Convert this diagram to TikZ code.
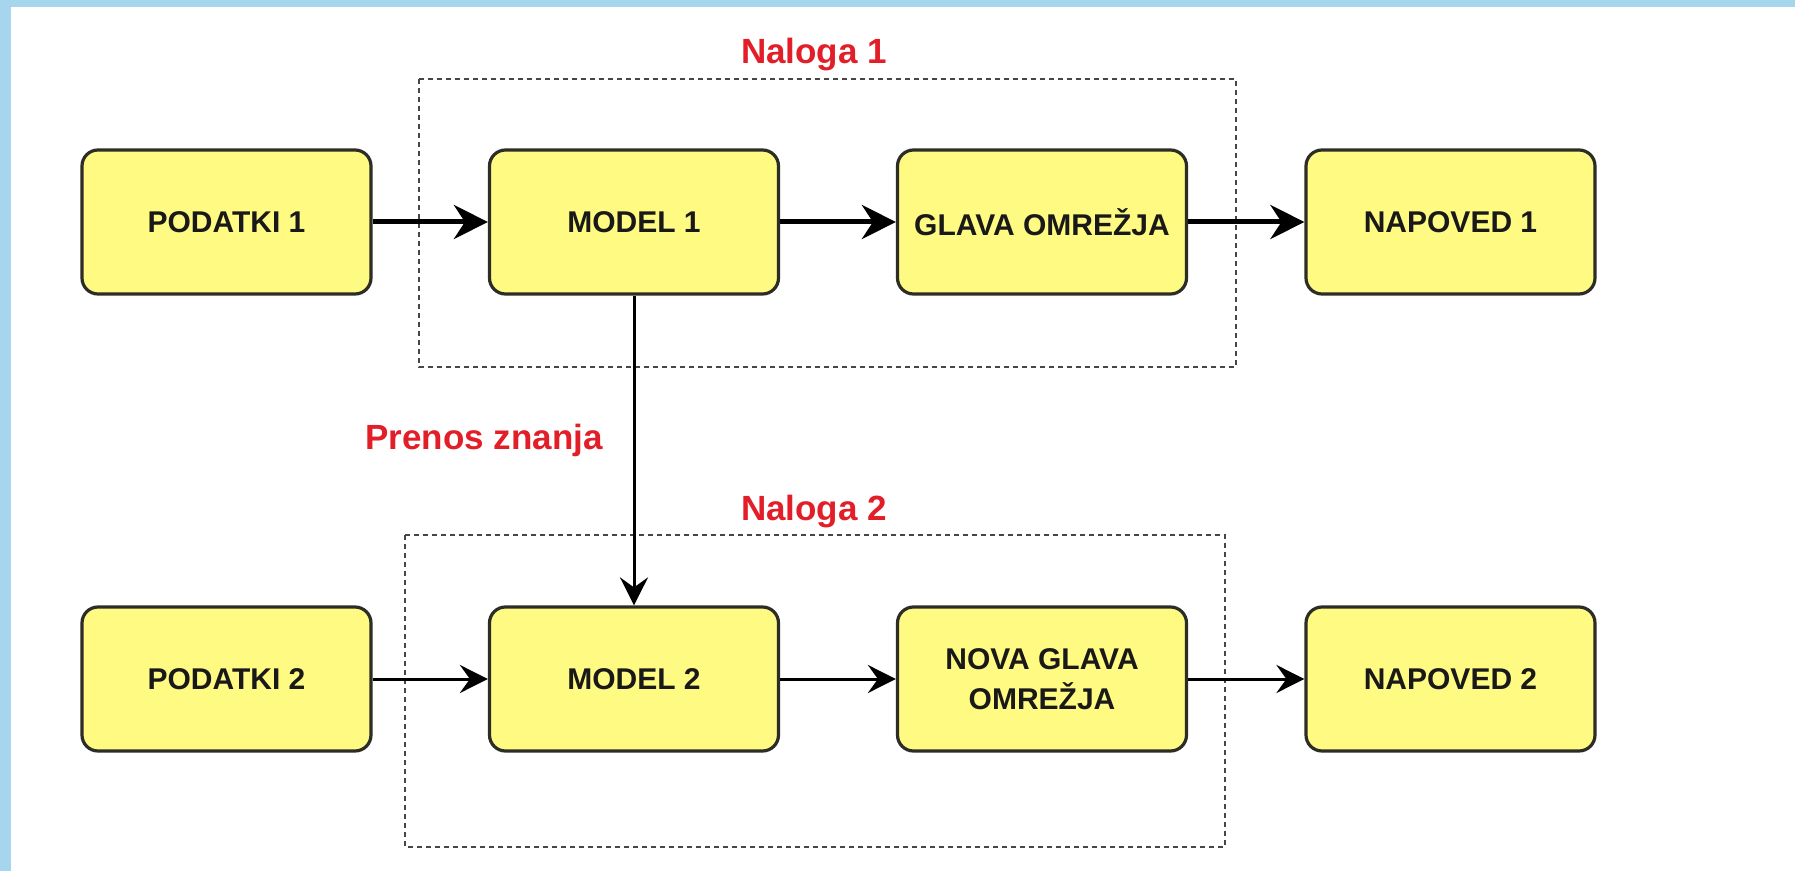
\documentclass[tikz,border=0pt]{standalone}
\usepackage{fontspec}
\setmainfont{Liberation Sans}
\usetikzlibrary{arrows.meta}
\definecolor{bgblue}{RGB}{166,214,238}
\definecolor{boxfill}{RGB}{255,250,130}
\definecolor{boxdraw}{RGB}{45,45,40}
\definecolor{labred}{RGB}{226,30,40}
\definecolor{dashgray}{RGB}{70,70,70}
\tikzset{
  blockbox/.style={draw=boxdraw, fill=boxfill, line width=1.6pt, rounded corners=8pt,
    minimum width=144.5pt, minimum height=72pt, align=center,
    font=\fontsize{15}{18}\selectfont\bfseries, text=black!90, inner sep=0pt},
  taskframe/.style={draw=dashgray, line width=1pt, dash pattern=on 2.5pt off 2pt},
  redlabel/.style={text=labred, font=\fontsize{17.5}{20}\selectfont\bfseries, inner sep=0pt},
  thickarrow/.style={line width=2.5pt, -{Stealth[length=17pt, width=17pt, inset=5.5pt]}},
  thinarrow/.style={line width=1.5pt, -{Stealth[length=14pt, width=14pt, inset=5pt]}},
}
\begin{document}
\begin{tikzpicture}[x=0.5pt, y=-0.5pt]
\useasboundingbox (0,0) rectangle (1795,871);
\fill[bgblue] (0,0) rectangle (1795,871);
\fill[white] (11,7) rectangle (1795,871);

% task frames
\draw[taskframe] (419,79) rectangle (1236,367);
\draw[taskframe] (405,535) rectangle (1225,847);

% labels
\node[redlabel] (n1) at (814,55) {Naloga 1};
\node[redlabel] (n2) at (814,512) {Naloga 2};
\node[redlabel] (pz) at (484,440) {Prenos znanja};

% row 1
\node[blockbox] (p1) at (226.5,222) {PODATKI 1};
\node[blockbox] (m1) at (634,222) {MODEL 1};
\node[blockbox] (g1) at (1042,222) {GLAVA OMREŽJA};
\node[blockbox] (o1) at (1450.5,222) {NAPOVED 1};

% row 2
\node[blockbox] (p2) at (226.5,679) {PODATKI 2};
\node[blockbox] (m2) at (634,679) {MODEL 2};
\node[blockbox] (g2) at (1042,679) {NOVA GLAVA\\[2pt]OMREŽJA};
\node[blockbox] (o2) at (1450.5,679) {NAPOVED 2};

% connectors
\draw[thickarrow] (p1) -- (m1);
\draw[thickarrow] (m1) -- (g1);
\draw[thickarrow] (g1) -- (o1);
\draw[thinarrow] (m1) -- (m2);
\draw[thinarrow] (p2) -- (m2);
\draw[thinarrow] (m2) -- (g2);
\draw[thinarrow] (g2) -- (o2);
\end{tikzpicture}
\end{document}
